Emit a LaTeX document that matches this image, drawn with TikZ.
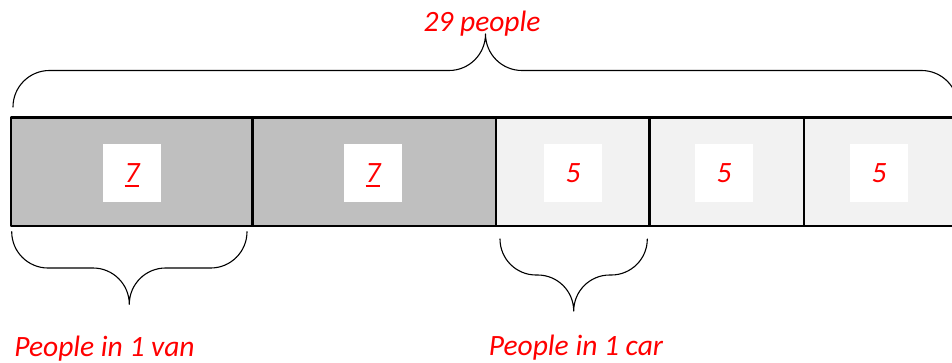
\documentclass[tikz,border=0pt]{standalone}
\usepackage{fontspec}
\setmainfont{Carlito}
\definecolor{vanfill}{HTML}{BFBFBF}
\definecolor{carfill}{HTML}{F2F2F2}
\newcommand{\ulnum}[1]{\setbox0\hbox{#1}\rlap{\rule[-4.7pt]{\wd0}{2pt}}\box0}
\tikzset{
  cell/.style={draw=black,line width=2.4pt},
  numbox/.style={fill=white,inner sep=0pt,minimum width=58pt,minimum height=58pt,
    text height=18.5pt,text depth=0pt,text=red},
  curly/.style={draw=black,line width=1.1pt},
  lbl/.style={text=red,anchor=base,inner sep=0pt}
}
\begin{document}
\begin{tikzpicture}[x=1pt,y=1pt,line join=round,line cap=round,
  font=\fontsize{29.5}{35}\selectfont\itshape]
	\useasboundingbox (0,0) rectangle (952,362);
	% bar of five parts
	\foreach \i/\a/\b/\c/\f/\t in
	{1/11/252.5/132/vanfill/\ulnum{7},2/252.5/495.7/373/vanfill/\ulnum{7},
	 3/495.7/649.3/573/carfill/5,4/649.3/804/724/carfill/5,5/804/957/879/carfill/5}
	{
	\draw[cell,fill=\f] (\a,136) rectangle (\b,244.5);
	\node[numbox] (n\i) at (\c,189) {\t};
	}
	% braces
	\draw[curly] (13,255) arc[start angle=180,end angle=90,radius=36.5]
	  -- (449,291.5) arc[start angle=270,end angle=360,radius=36.5]
	  arc[start angle=180,end angle=270,radius=36.5]
	  -- (921.5,291.5) arc[start angle=90,end angle=0,radius=36.5];
	\draw[curly] (11.7,130.3) arc[start angle=180,end angle=270,radius=36.3]
	  -- (93,94) arc[start angle=90,end angle=0,radius=36.3]
	  arc[start angle=180,end angle=90,radius=36.3]
	  -- (210.7,94) arc[start angle=270,end angle=360,radius=36.3];
	\draw[curly] (500,123) arc[start angle=180,end angle=270,radius=36]
	  -- (537.7,87) arc[start angle=90,end angle=0,radius=36]
	  arc[start angle=180,end angle=90,radius=36]
	  -- (611.3,87) arc[start angle=270,end angle=360,radius=36];
	% labels
	\node[lbl] (total) at (482,330) {29 people};
	\node[lbl] (van) at (104.5,5.3) {People in 1 van};
	\node[lbl] (car) at (576,6.3) {People in 1 car};
\end{tikzpicture}
\end{document}
